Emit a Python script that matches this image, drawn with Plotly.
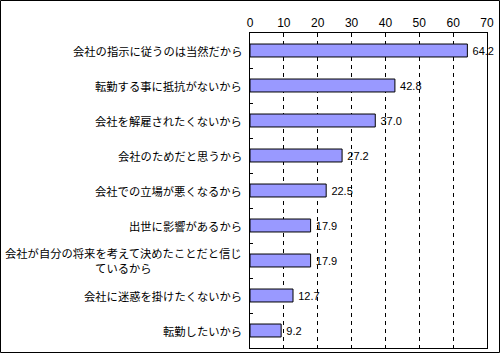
import plotly.graph_objects as go

categories = [
    "会社の指示に従うのは当然だから",
    "転勤する事に抵抗がないから",
    "会社を解雇されたくないから",
    "会社のためだと思うから",
    "会社での立場が悪くなるから",
    "出世に影響があるから",
    "会社が自分の将来を考えて決めたことだと信じ<br>ているから",
    "会社に迷惑を掛けたくないから",
    "転勤したいから",
]
values = [64.2, 42.8, 37.0, 27.2, 22.5, 17.9, 17.9, 12.7, 9.2]
x_ticks = [0, 10, 20, 30, 40, 50, 60, 70]

W, H = 500, 353
L, R, T, B = 250, 13, 33, 5
pw, ph = W - L - R, H - T - B

font_jp = "Noto Sans CJK JP"
font_num = "Liberation Sans"
ids = [str(i) for i in range(len(categories))]

fig = go.Figure()
fig.add_trace(go.Bar(
    y=ids, x=values, orientation="h",
    marker=dict(color="#9999FF", line=dict(color="black", width=1)),
    text=["\u2009" + f"{v:.1f}" for v in values], textposition="outside",
    textfont=dict(family=font_num, size=11, color="black"),
    constraintext="none",
    cliponaxis=False, width=0.37,
))

annotations = []
for i, c in zip(ids, categories):
    annotations.append(dict(
        x=0, xref="paper", y=i, yref="y", text=c, showarrow=False,
        xanchor="right", yanchor="middle", align="center", xshift=-6,
        font=dict(family=font_jp, size=11.3, color="black"),
    ))

def px_x(p):
    return (p - L) / pw

def px_y(p):
    return (H - B - p) / ph

fig.update_layout(
    width=W, height=H,
    margin=dict(l=L, r=R, t=T, b=B),
    paper_bgcolor="white", plot_bgcolor="white",
    showlegend=False,
    annotations=annotations,
    shapes=[dict(type="rect", xref="paper", yref="paper",
                 x0=px_x(0.5), x1=px_x(W - 0.5), y0=px_y(H - 0.5), y1=px_y(0.5),
                 line=dict(color="black", width=1), layer="above")],
    xaxis=dict(
        side="top", range=[0, 70], tickvals=x_ticks, ticktext=[str(t) for t in x_ticks],
        showgrid=True, gridcolor="black", griddash="4px,4px", gridwidth=1,
        showline=True, linecolor="black", linewidth=1, mirror=True,
        ticks="", zeroline=False,
        tickfont=dict(family=font_num, size=12, color="black"),
        fixedrange=True,
    ),
    yaxis=dict(
        type="category", autorange="reversed", showticklabels=False,
        ticks="inside", ticklen=3, tickcolor="black", tickson="boundaries",
        showgrid=False, showline=True, linecolor="black", linewidth=1, mirror=True,
        fixedrange=True,
    ),
)

fig.write_html("out.html")
